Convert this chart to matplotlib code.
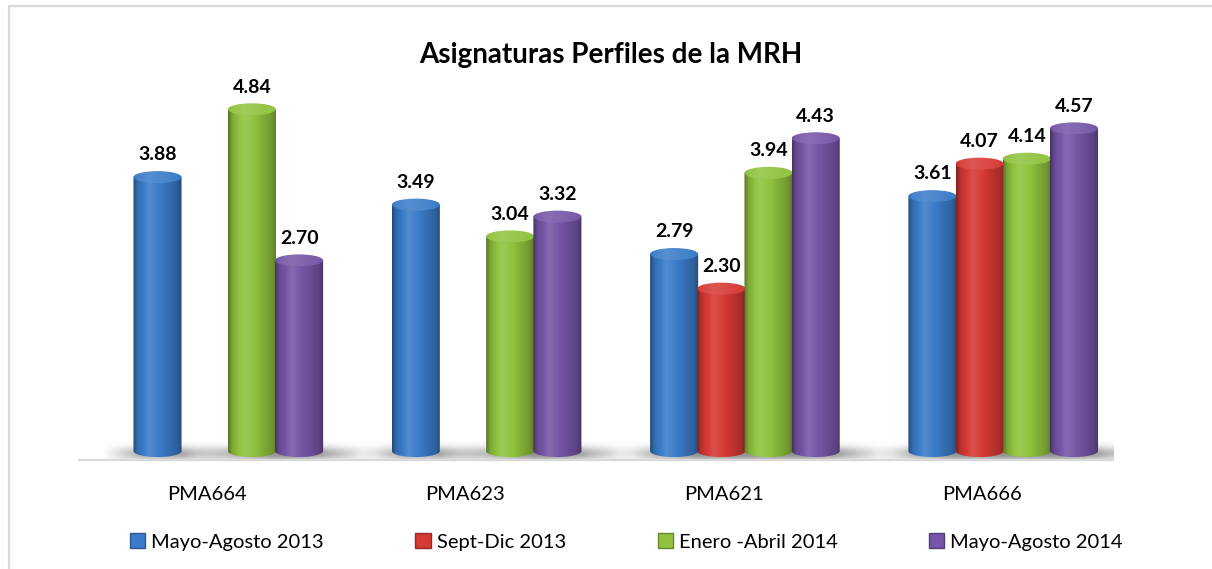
import matplotlib.pyplot as plt
import numpy as np
from matplotlib.colors import to_rgb
from matplotlib.patches import Ellipse, PathPatch, Patch, Rectangle
from matplotlib.path import Path

plt.rcParams["font.family"] = ["Lato", "DejaVu Sans"]

categories = ["PMA664", "PMA623", "PMA621", "PMA666"]
series_names = ["Mayo-Agosto 2013", "Sept-Dic 2013", "Enero -Abril 2014", "Mayo-Agosto 2014"]
mayo_ago_2013 = [3.88, 3.49, 2.79, 3.61]
sept_dic_2013 = [np.nan, np.nan, 2.30, 4.07]
enero_abr_2014 = [4.84, 3.04, 3.94, 4.14]
mayo_ago_2014 = [2.70, 3.32, 4.43, 4.57]
series_values = [mayo_ago_2013, sept_dic_2013, enero_abr_2014, mayo_ago_2014]
colors = ["#3a7cc8", "#d63a35", "#90c23e", "#7556a6"]

W, H = 1212, 569
SLOT = 0.1827
BAR_W = 0.186
ELL_H = 0.17
# horizontal shading profile of a cylinder (dark rim, highlight left of centre)
PROFILE_T = [0.0, 0.08, 0.33, 0.55, 0.9, 1.0]
PROFILE_F = [0.60, 0.86, 1.12, 1.0, 0.78, 0.62]


def shade(base, factor):
    base = np.asarray(to_rgb(base))
    f = np.asarray(factor)[:, None]
    dark = base * np.minimum(f, 1.0)
    light = base + (1 - base) * np.clip(f - 1.0, 0, 1)
    return np.where(f > 1.0, light, dark)


def draw_shadow(ax, xc):
    left = xc - BAR_W / 2 - 0.12
    right = xc + BAR_W / 2 + 0.2
    bottom, top = -0.18, 0.14
    nx, ny = 80, 30
    gx = np.linspace(0, 1, nx)
    gy = np.linspace(0, 1, ny)
    ax_prof = np.interp(gx, [0, 0.3, 0.6, 1.0], [0, 0.9, 1.0, 0])
    ay_prof = np.exp(-((gy - 0.45) / 0.3) ** 2)
    alpha = 0.7 * ay_prof[:, None] * ax_prof[None, :]
    img = np.zeros((ny, nx, 4))
    img[..., :3] = 0.5
    img[..., 3] = alpha
    ax.imshow(img, extent=[left, right, bottom, top], aspect="auto",
              origin="lower", zorder=1, interpolation="bilinear")


def draw_cylinder(ax, xc, height, color, z):
    left, right = xc - BAR_W / 2, xc + BAR_W / 2
    theta = np.linspace(np.pi, 2 * np.pi, 40)
    lower = np.column_stack([xc + BAR_W / 2 * np.cos(theta), ELL_H / 2 * np.sin(theta)])
    verts = np.vstack([[left, height], lower, [right, height], [left, height]])
    body = PathPatch(Path(verts), facecolor="none", edgecolor="none")
    ax.add_patch(body)
    t = np.linspace(0, 1, 64)
    row = shade(color, np.interp(t, PROFILE_T, PROFILE_F))
    im = ax.imshow(np.repeat(row[None], 2, axis=0), extent=[left, right, -ELL_H / 2, height],
                   aspect="auto", origin="lower", zorder=z, interpolation="bilinear")
    im.set_clip_path(body)

    cap = Ellipse((xc, height), BAR_W, ELL_H, facecolor="none", edgecolor="none")
    ax.add_patch(cap)
    top_f = np.interp(t, PROFILE_T, PROFILE_F) * 0.35 + 0.75
    top_row = shade(color, top_f)
    im2 = ax.imshow(np.repeat(top_row[None], 2, axis=0),
                    extent=[left, right, height - ELL_H / 2, height + ELL_H / 2],
                    aspect="auto", origin="lower", zorder=z + 0.1, interpolation="bilinear")
    im2.set_clip_path(cap)


fig = plt.figure(figsize=(W / 100, H / 100), dpi=100)
fig.patches.append(Rectangle((8.5 / W, -0.1), 1.2, 1.1 - 6.5 / H, transform=fig.transFigure,
                             facecolor="none", edgecolor="#d9d9d9", linewidth=1.6))

ax = fig.add_axes([79 / W, (H - 460) / H, 1034 / W, 380 / H])
ax.set_facecolor("none")

z = 2
for g in range(len(categories)):
    for k, vals in enumerate(series_values):
        v = vals[g]
        if np.isnan(v):
            continue
        xc = g + (k - 1.5) * SLOT
        draw_shadow(ax, xc)
        draw_cylinder(ax, xc, v, colors[k], z)
        ax.annotate(f"{v:.2f}", (xc, v), xytext=(0, 16), textcoords="offset points",
                    ha="center", va="center", fontsize=14, fontweight="bold",
                    color="black", zorder=10)
        z += 1

ax.set_xlim(-0.578, 3.425)
ax.set_ylim(-0.127, 5.255)
for side in ["top", "right", "left"]:
    ax.spines[side].set_visible(False)
ax.spines["bottom"].set_color("#d9d9d9")
ax.spines["bottom"].set_linewidth(1.6)
ax.set_yticks([])
ax.set_xticks(np.arange(len(categories)) - 0.082)
ax.set_xticklabels(categories, fontsize=14.5)
ax.tick_params(axis="x", length=0, pad=19)

fig.text(611 / W, 1 - 55 / H, "Asignaturas Perfiles de la MRH", ha="center", va="center",
         fontsize=20, fontweight="bold")

handles = [Patch(facecolor=c, edgecolor=shade(c, [0.7])[0]) for c in colors]
fig.legend(handles, series_names, loc="center", bbox_to_anchor=(626.5 / W, 1 - 542 / H),
           ncol=4, frameon=False, fontsize=14.5, handlelength=0.75, handleheight=0.75,
           handletextpad=0.3, columnspacing=4.55)

fig.savefig("out.png", dpi=100)
